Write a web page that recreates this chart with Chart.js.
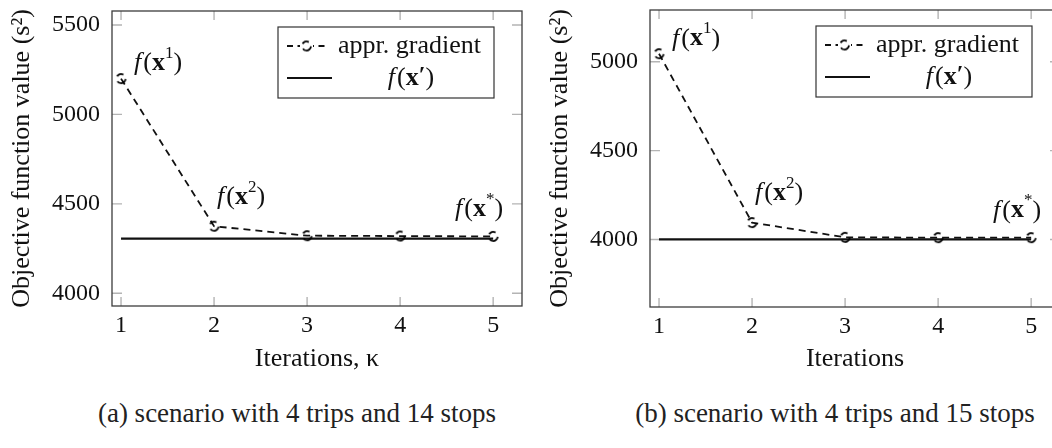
<!DOCTYPE html>
<html lang="en">
<head>
    <meta charset="UTF-8">
    <title>Objective function value per iteration</title>
    <script src="https://cdn.jsdelivr.net/npm/chart.js"></script>
    <style>
        body {
            margin: 0;
            width: 1052px;
            height: 448px;
            overflow: hidden;
            background: #fff;
            position: relative;
            font-family: "Liberation Serif", serif;
        }

        .chart-box {
            position: absolute;
            top: 0;
            width: 540px;
            height: 380px;
        }

        .caption {
            position: absolute;
            top: 397px;
            width: 460px;
            text-align: center;
            font-size: 27px;
            line-height: 32px;
            color: #222;
            white-space: nowrap;
        }
    </style>
</head>
<body>
    <div class="chart-box" style="left:0"><canvas id="chartA"></canvas></div>
    <div class="chart-box" style="left:538px"><canvas id="chartB"></canvas></div>

    <div class="caption" style="left:67px">(a) scenario with 4 trips and 14 stops</div>
    <div class="caption" style="left:605px">(b) scenario with 4 trips and 15 stops</div>

    <script>
        // values
        const iterations = [1, 2, 3, 4, 5];
        const gradientA = [5200, 4375, 4322, 4320, 4318];
        const optimumA = [4306, 4306, 4306, 4306, 4306];
        const gradientB = [5045, 4095, 4012, 4010, 4010];
        const optimumB = [4000, 4000, 4000, 4000, 4000];
        const xTicks = [1, 2, 3, 4, 5];
        const yTicksA = [4000, 4500, 5000, 5500];
        const yTicksB = [4000, 4500, 5000];
        const seriesNames = ['appr. gradient', 'f(x\u2032)'];

        const FONT = '"Liberation Serif", serif';
        const INK = '#111';

        // circle marker drawn with the same dash as the line (like pgfplots does)
        function dashedRing(r) {
            const s = Math.ceil(2 * r + 4);
            const c = document.createElement('canvas');
            c.width = s;
            c.height = s;
            const g = c.getContext('2d');
            g.strokeStyle = '#000';
            g.lineWidth = 1.8;
            g.setLineDash([7, 5]);
            g.beginPath();
            g.arc(s / 2, s / 2, r, 0.9, 0.9 + Math.PI * 2);
            g.stroke();
            return c;
        }
        const ring = dashedRing(4.5);

        // f(x^k) with italic f, bold x and a small superscript
        function drawFx(ctx, x, y, sup, align) {
            const prime = sup === '\u2032';
            const parts = [
                ['italic 26px ' + FONT, 'f', 0],
                ['26px ' + FONT, '(', 0],
                ['bold 26px ' + FONT, 'x', 0],
                [prime ? 'bold 24px ' + FONT : '17px ' + FONT, sup, prime ? -2 : -10],
                ['26px ' + FONT, ')', 0]
            ];
            let total = 0;
            const widths = parts.map(p => {
                ctx.font = p[0];
                const w = ctx.measureText(p[1]).width + (p[1] === 'f' ? 2 : 0);
                total += w;
                return w;
            });
            let cx = align === 'right' ? x - total : (align === 'center' ? x - total / 2 : x);
            ctx.fillStyle = INK;
            ctx.textBaseline = 'middle';
            ctx.textAlign = 'left';
            parts.forEach((p, i) => {
                ctx.font = p[0];
                ctx.fillText(p[1], cx, y + p[2]);
                cx += widths[i];
            });
        }

        const decoPlugin = {
            id: 'deco',
            beforeDatasetsDraw(chart) {
                const { ctx, chartArea: a, scales } = chart;
                ctx.save();
                ctx.strokeStyle = '#b4b4b4';
                ctx.lineWidth = 1.4;
                ctx.beginPath();
                scales.x.ticks.forEach(t => {
                    const px = scales.x.getPixelForValue(t.value);
                    ctx.moveTo(px, a.bottom); ctx.lineTo(px, a.bottom - 9);
                    ctx.moveTo(px, a.top); ctx.lineTo(px, a.top + 9);
                });
                scales.y.ticks.forEach(t => {
                    const py = scales.y.getPixelForValue(t.value);
                    ctx.moveTo(a.left, py); ctx.lineTo(a.left + 10, py);
                    ctx.moveTo(a.right, py); ctx.lineTo(a.right - 10, py);
                });
                ctx.stroke();
                ctx.restore();
            },
            afterDatasetsDraw(chart) {
                const { ctx, chartArea: a, scales } = chart;
                const data = chart.data.datasets[0].data;
                ctx.save();

                // axis frame
                ctx.strokeStyle = '#3c3c3c';
                ctx.lineWidth = 1.3;
                ctx.strokeRect(a.left, a.top, a.right - a.left, a.bottom - a.top);

                // point annotations
                const p = i => [scales.x.getPixelForValue(data[i].x), scales.y.getPixelForValue(data[i].y)];
                let [x1, y1] = p(0);
                drawFx(ctx, x1 + 13, y1 - 15, '1', 'left');
                let [x2, y2] = p(1);
                drawFx(ctx, x2 + 3, y2 - 29, '2', 'left');
                let [x5, y5] = p(data.length - 1);
                drawFx(ctx, x5 + 10, y5 - 27, '*', 'right');

                // legend box
                const bw = 216, bh = 71;
                const bx = a.right - 28 - bw, by = a.top + 16;
                ctx.fillStyle = '#fff';
                ctx.fillRect(bx, by, bw, bh);
                ctx.strokeStyle = '#333';
                ctx.lineWidth = 1.2;
                ctx.strokeRect(bx, by, bw, bh);

                const r1 = by + 19, r2 = by + 51;
                ctx.strokeStyle = INK;
                ctx.lineWidth = 1.8;
                ctx.setLineDash([6, 4.5]);
                ctx.beginPath();
                ctx.moveTo(bx + 9, r1); ctx.lineTo(bx + 48, r1);
                ctx.stroke();
                ctx.setLineDash([]);
                ctx.fillStyle = '#fff';
                ctx.fillRect(bx + 22, r1 - 6, 13, 12);
                ctx.drawImage(ring, bx + 28.5 - ring.width / 2, r1 - ring.height / 2);

                ctx.lineWidth = 2.2;
                ctx.beginPath();
                ctx.moveTo(bx + 9, r2); ctx.lineTo(bx + 54, r2);
                ctx.stroke();

                ctx.fillStyle = INK;
                ctx.font = '26px ' + FONT;
                ctx.textBaseline = 'middle';
                ctx.textAlign = 'left';
                ctx.fillText(seriesNames[0], bx + 60, r1);
                drawFx(ctx, bx + 133, r2, '\u2032', 'center');

                ctx.restore();
            }
        };

        function makeChart(id, gradient, optimum, yTicks, yMin, yMax, xTitle, top, xHeight) {
            const ctx = document.getElementById(id).getContext('2d');
            return new Chart(ctx, {
                type: 'line',
                data: {
                    datasets: [{
                        label: seriesNames[0],
                        data: iterations.map((k, i) => ({ x: k, y: gradient[i] })),
                        borderColor: INK,
                        borderWidth: 1.8,
                        borderDash: [7, 5],
                        pointStyle: ring,
                        pointRadius: 4.5,
                        fill: false,
                        tension: 0
                    }, {
                        label: seriesNames[1],
                        data: iterations.map((k, i) => ({ x: k, y: optimum[i] })),
                        borderColor: INK,
                        borderWidth: 2.2,
                        pointRadius: 0,
                        fill: false,
                        tension: 0
                    }]
                },
                options: {
                    responsive: true,
                    maintainAspectRatio: false,
                    animation: false,
                    layout: { padding: { top: top, right: 18, bottom: 0, left: 0 } },
                    plugins: {
                        legend: { display: false },
                        tooltip: { enabled: false }
                    },
                    scales: {
                        x: {
                            type: 'linear',
                            min: 0.903,
                            max: 5.31,
                            afterBuildTicks: s => { s.ticks = xTicks.map(v => ({ value: v })); },
                            afterFit: s => {
                                s.height = xHeight;
                                s.paddingLeft = 0;
                                s.paddingRight = 0;
                            },
                            grid: { display: false, drawTicks: false },
                            border: { display: false },
                            ticks: {
                                padding: 5,
                                color: INK,
                                font: { family: FONT, size: 24 },
                                maxRotation: 0,
                                callback: v => String(v)
                            },
                            title: {
                                display: true,
                                text: xTitle,
                                color: INK,
                                font: { family: FONT, size: 26 },
                                padding: { top: 0, bottom: 5 }
                            }
                        },
                        y: {
                            type: 'linear',
                            min: yMin,
                            max: yMax,
                            afterBuildTicks: s => { s.ticks = yTicks.map(v => ({ value: v })); },
                            afterFit: s => {
                                s.width = 112;
                                s.paddingTop = 0;
                                s.paddingBottom = 0;
                            },
                            grid: { display: false, drawTicks: false },
                            border: { display: false },
                            ticks: {
                                padding: 12,
                                color: INK,
                                font: { family: FONT, size: 24 },
                                callback: v => String(v)
                            },
                            title: {
                                display: true,
                                text: 'Objective function value (s\u00b2)',
                                color: INK,
                                font: { family: FONT, size: 26 },
                                padding: { top: 7, bottom: 0 }
                            }
                        }
                    }
                },
                plugins: [decoPlugin]
            });
        }

        makeChart('chartA', gradientA, optimumA, yTicksA, 3929, 5578, 'Iterations, \u03ba', 11, 74);
        makeChart('chartB', gradientB, optimumB, yTicksB, 3620, 5291, 'Iterations', 10, 73);
    </script>
</body>
</html>
